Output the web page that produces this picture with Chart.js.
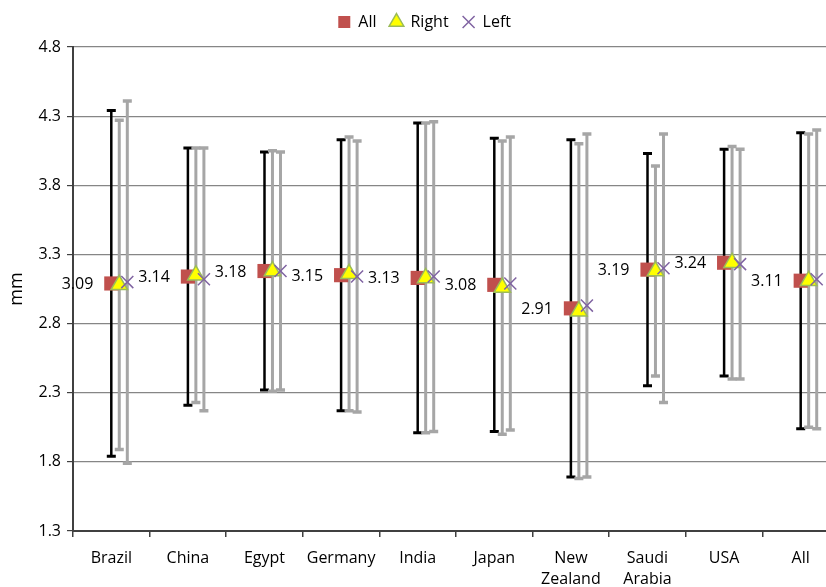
<!DOCTYPE html>
<html>
<head>
<meta charset="utf-8">
<script src="https://cdn.jsdelivr.net/npm/chart.js@4.4.1/dist/chart.umd.min.js"></script>
<style>
  html, body { margin: 0; padding: 0; overflow: hidden; background: #ffffff; }
  #wrap { width: 850px; height: 587px; position: relative; }
</style>
</head>
<body>
<div id="wrap"><canvas id="chart"></canvas></div>
<script>
// Countries along the x axis
const categories = ['Brazil', 'China', 'Egypt', 'Germany', 'India', 'Japan',
  ['New', 'Zealand'], ['Saudi', 'Arabia'], 'USA', 'All'];

// Mean values (mm)
const meanAll   = [3.09, 3.14, 3.18, 3.15, 3.13, 3.08, 2.91, 3.19, 3.24, 3.11];
const meanRight = [3.08, 3.15, 3.18, 3.16, 3.13, 3.06, 2.89, 3.18, 3.24, 3.11];
const meanLeft  = [3.10, 3.12, 3.18, 3.14, 3.14, 3.09, 2.93, 3.20, 3.23, 3.12];

// Standard deviations (mm), drawn as +/- error bars
const sdAll   = [1.25, 0.93, 0.86, 0.98, 1.12, 1.06, 1.22, 0.84, 0.82, 1.07];
const sdRight = [1.19, 0.92, 0.87, 0.99, 1.12, 1.06, 1.21, 0.76, 0.84, 1.06];
const sdLeft  = [1.31, 0.95, 0.86, 0.98, 1.12, 1.06, 1.24, 0.97, 0.83, 1.08];

// Y axis ticks
const yTicks = [1.3, 1.8, 2.3, 2.8, 3.3, 3.8, 4.3, 4.8];

const FONT = "'Open Sans', 'Liberation Sans', sans-serif";

// Small horizontal shift per series inside each country slot
const toPoints = (vals, shift) => vals.map((v, i) => ({ x: i + shift, y: v }));

// Extra room under the legend and a slight nudge of the legend row
const legendTweak = {
  id: 'legendTweak',
  afterInit(chart) {
    const lg = chart.legend;
    if (!lg || lg._tweaked) return;
    lg._tweaked = true;
    const fit = lg.fit.bind(lg);
    lg.fit = function () { fit(); this.height += 7; };
    const draw = lg.draw.bind(lg);
    lg.draw = function () {
      const c = chart.ctx;
      c.save(); c.translate(5, 0); draw(); c.restore();
    };
  }
};

const errorBars = {
  id: 'errorBars',
  beforeDatasetsDraw(chart) {
    const { ctx } = chart;
    const ys = chart.scales.y;
    chart.data.datasets.forEach((ds, di) => {
      const meta = chart.getDatasetMeta(di);
      ctx.save();
      ctx.strokeStyle = ds.errColor;
      ctx.lineWidth = ds.errWidth;
      ctx.lineCap = 'butt';
      meta.data.forEach((pt, i) => {
        const v = ds.data[i].y, e = ds.sd[i];
        const yt = ys.getPixelForValue(v + e);
        const yb = ys.getPixelForValue(v - e);
        const x = pt.x;
        ctx.beginPath();
        ctx.moveTo(x, yt); ctx.lineTo(x, yb);
        ctx.stroke();
        ctx.lineWidth = ds.errWidth + 0.5;
        ctx.beginPath();
        ctx.moveTo(x - 4.5, yt); ctx.lineTo(x + 4.5, yt);
        ctx.moveTo(x - 4.5, yb); ctx.lineTo(x + 4.5, yb);
        ctx.stroke();
        ctx.lineWidth = ds.errWidth;
      });
      ctx.restore();
    });
  }
};

const valueLabels = {
  id: 'valueLabels',
  afterDatasetsDraw(chart) {
    const { ctx } = chart;
    const meta = chart.getDatasetMeta(0);
    const ds = chart.data.datasets[0];
    ctx.save();
    ctx.font = '16px ' + FONT;
    ctx.fillStyle = '#000000';
    ctx.textAlign = 'right';
    ctx.textBaseline = 'middle';
    meta.data.forEach((pt, i) => {
      ctx.fillText(ds.data[i].y.toFixed(2), pt.x - 18, pt.y + 1);
    });
    ctx.restore();
  }
};

new Chart(document.getElementById('chart'), {
  type: 'scatter',
  data: {
    labels: categories,
    datasets: [
      {
        label: 'All',
        data: toPoints(meanAll, 0),
        sd: sdAll,
        errColor: '#000000',
        errWidth: 2.5,
        pointStyle: 'rect',
        pointRadius: 10,
        pointHoverRadius: 10,
        backgroundColor: '#C0504D',
        borderColor: '#C0504D',
        borderWidth: 0,
        order: 3
      },
      {
        label: 'Right',
        data: toPoints(meanRight, 0.104),
        sd: sdRight,
        errColor: '#A6A6A6',
        errWidth: 3,
        pointStyle: 'triangle',
        pointRadius: 9.5,
        pointHoverRadius: 9.5,
        backgroundColor: '#FFFF00',
        borderColor: '#9BBB59',
        borderWidth: 1.5,
        order: 2
      },
      {
        label: 'Left',
        data: toPoints(meanLeft, 0.209),
        sd: sdLeft,
        errColor: '#A6A6A6',
        errWidth: 3,
        pointStyle: 'crossRot',
        pointRadius: 8.5,
        pointHoverRadius: 8.5,
        backgroundColor: '#8064A2',
        borderColor: '#8064A2',
        borderWidth: 1.5,
        order: 1
      }
    ]
  },
  options: {
    responsive: true,
    maintainAspectRatio: false,
    animation: false,
    events: [],
    layout: { padding: { top: 0, right: 10.7, bottom: 0, left: 0 } },
    plugins: {
      tooltip: { enabled: false },
      legend: {
        position: 'top',
        labels: {
          usePointStyle: true,
          boxHeight: 12,
          boxWidth: 12,
          padding: 14,
          color: '#000000',
          font: { family: FONT, size: 16 },
          sort: (a, b) => a.datasetIndex - b.datasetIndex
        }
      }
    },
    scales: {
      x: {
        type: 'linear',
        min: -0.5,
        max: 9.5,
        display: false
      },
      xc: {
        type: 'category',
        position: 'bottom',
        labels: categories,
        offset: true,
        grid: {
          offset: true,
          drawOnChartArea: false,
          drawTicks: true,
          tickLength: 6,
          color: '#404040',
          lineWidth: 1.5
        },
        border: { display: true, color: '#404040', width: 2 },
        ticks: {
          color: '#000000',
          font: { family: FONT, size: 16, lineHeight: 1.37 },
          padding: 10,
          maxRotation: 0,
          autoSkip: false
        },
        afterFit(scale) { scale.height = 56; }
      },
      y: {
        type: 'linear',
        min: 1.3,
        max: 4.8,
        afterBuildTicks(scale) { scale.ticks = yTicks.map(v => ({ value: v })); },
        ticks: {
          color: '#000000',
          font: { family: FONT, size: 16 },
          padding: 6,
          callback: (v) => Number(v).toFixed(1)
        },
        grid: {
          color: '#868686',
          lineWidth: 1.2,
          tickLength: 6,
          tickColor: '#404040'
        },
        border: { display: true, color: '#404040', width: 2 },
        title: {
          display: true,
          text: 'mm',
          color: '#000000',
          font: { family: FONT, size: 18 },
          padding: { top: 6, bottom: 0 }
        },
        afterFit(scale) { scale.width = 73; }
      }
    }
  },
  plugins: [legendTweak, errorBars, valueLabels]
});
</script>
</body>
</html>
